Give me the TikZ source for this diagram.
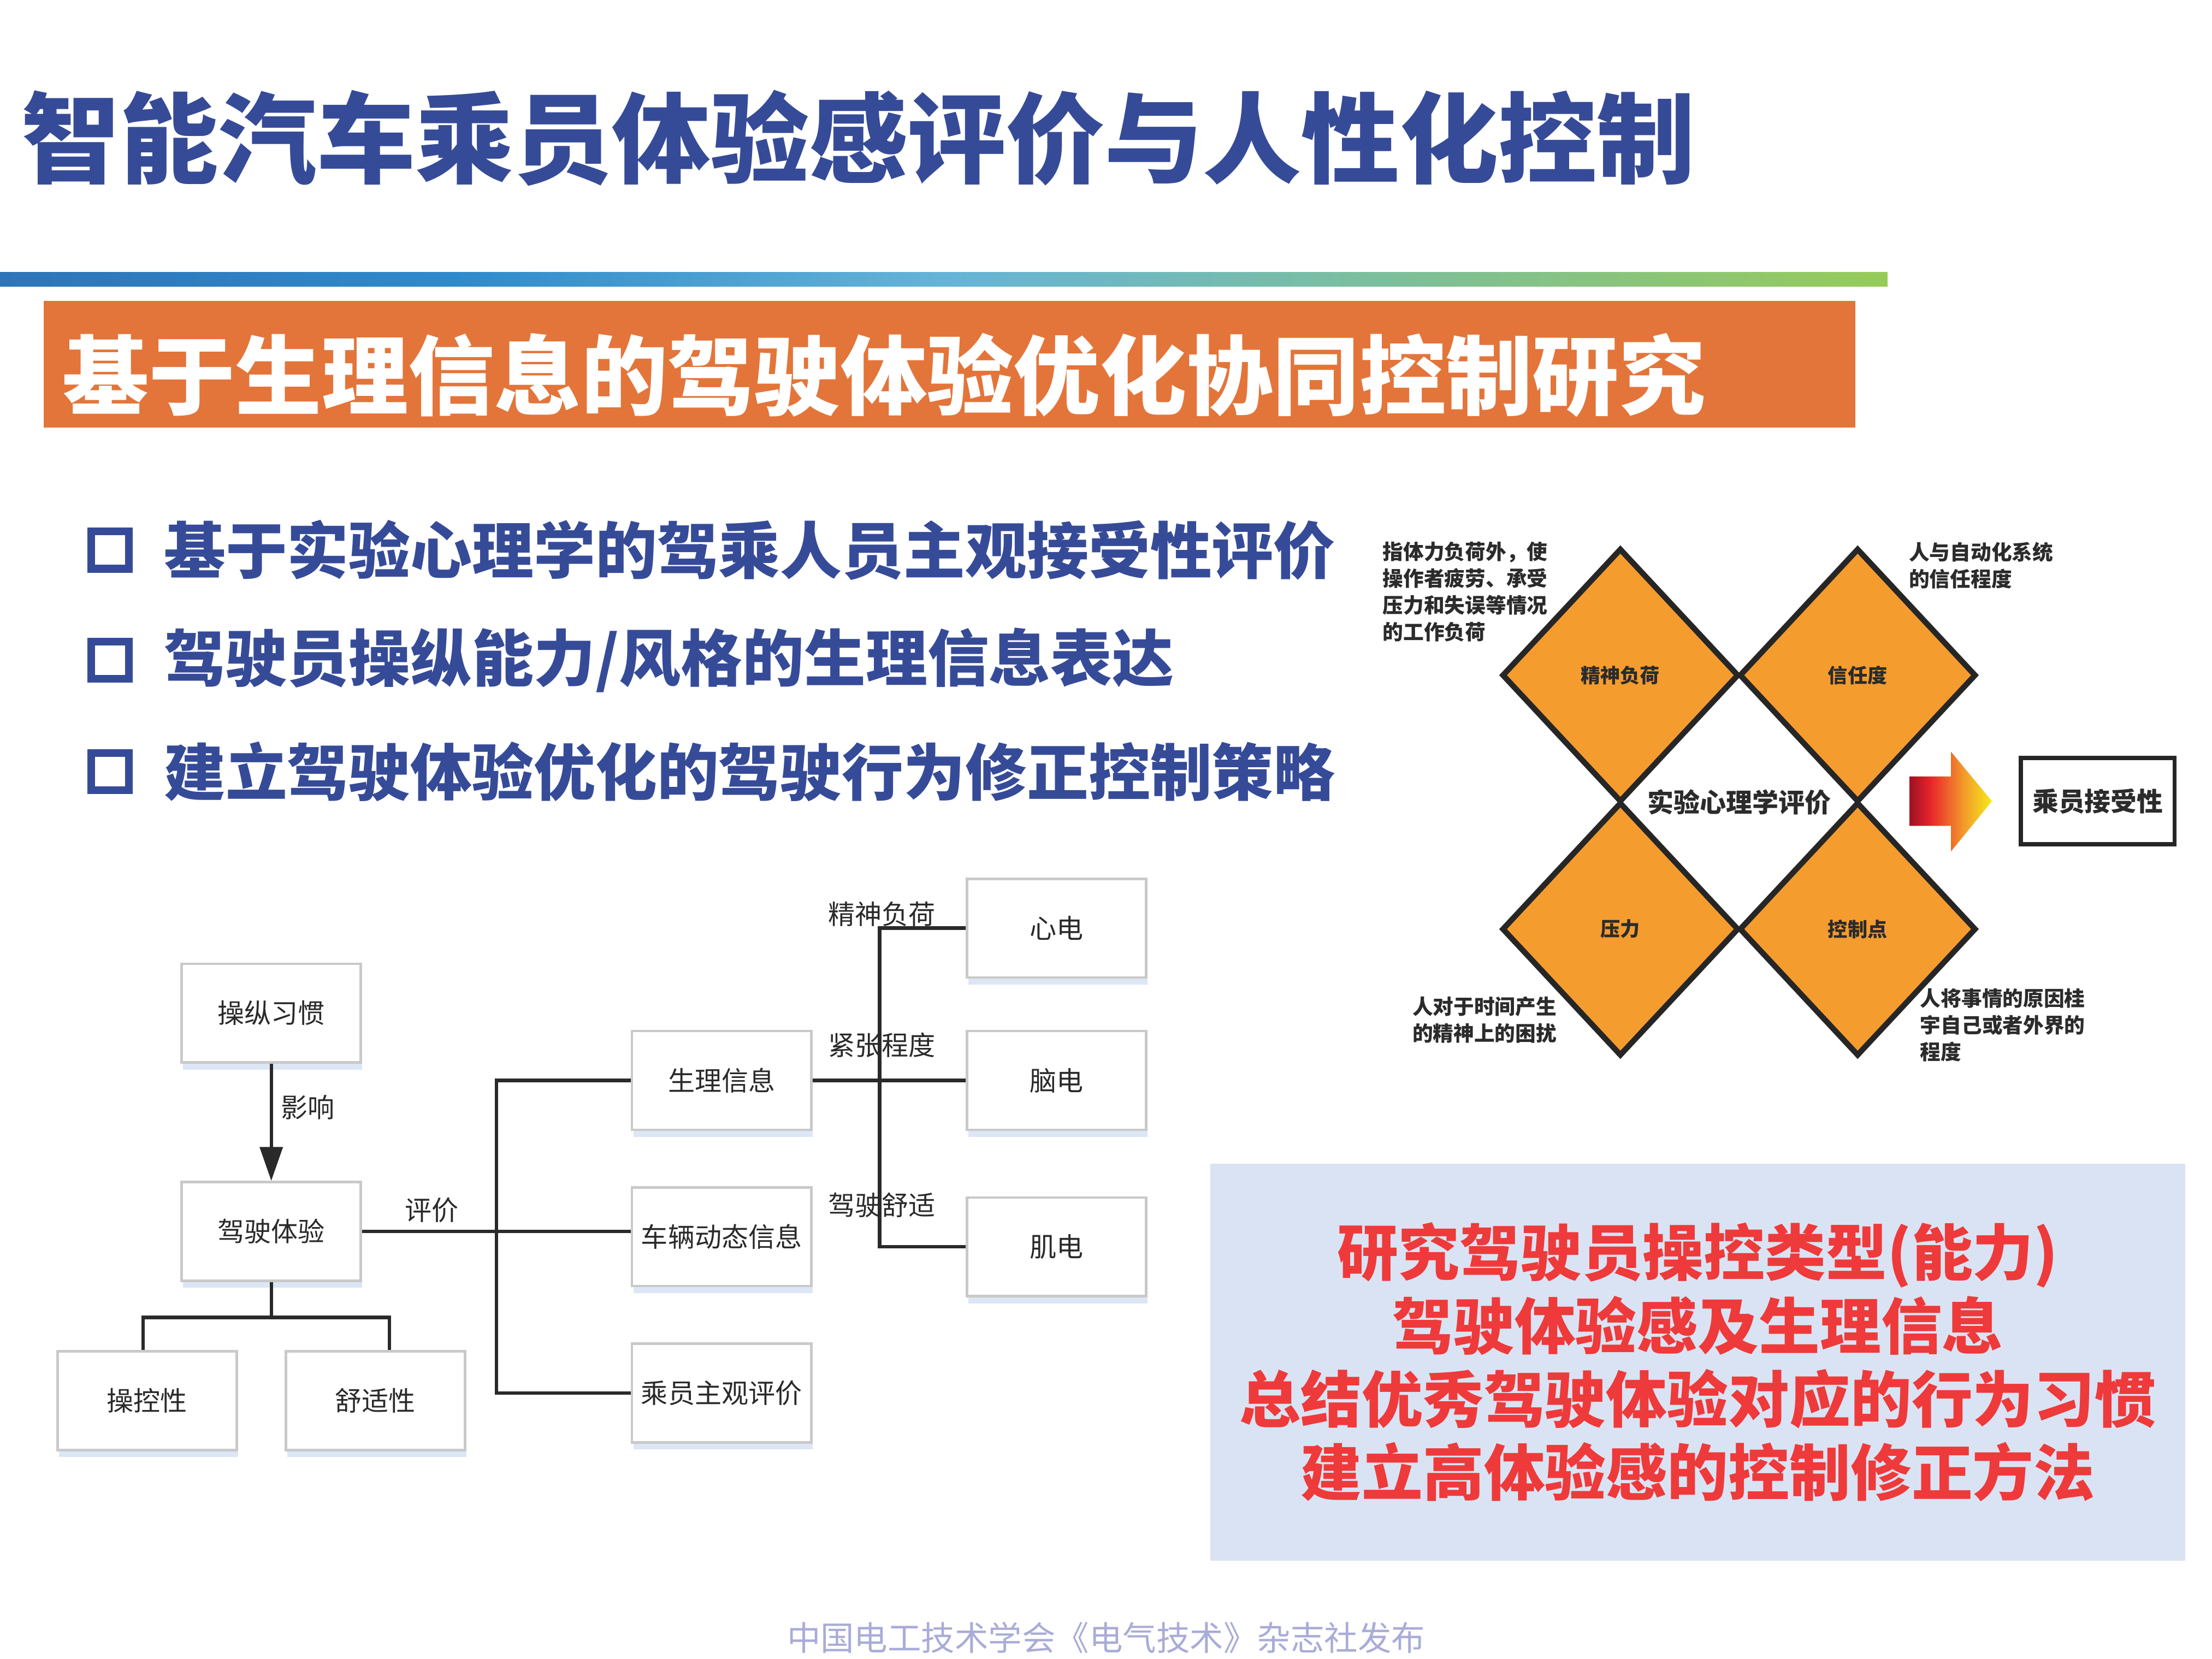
\documentclass[tikz,border=0pt]{standalone}
\usepackage{fontspec}
\setmainfont{Noto Sans CJK SC}
\usepackage{xcolor}
\definecolor{titleBlue}{HTML}{364B98}
\definecolor{headOrange}{HTML}{E3753A}
\definecolor{barBlue}{HTML}{2E74B8}
\definecolor{barMid}{HTML}{2F8ACB}
\definecolor{barSky}{HTML}{65B4D8}
\definecolor{barGreen}{HTML}{97CB58}
\definecolor{diamondOrange}{HTML}{F59C2F}
\definecolor{edgeDark}{HTML}{262626}
\definecolor{noteText}{HTML}{2B2B2B}
\definecolor{boxLine}{HTML}{C9C9C9}
\definecolor{shadowBlue}{HTML}{DCE6F5}
\definecolor{linkDark}{HTML}{2A2A2A}
\definecolor{panelBlue}{HTML}{DAE3F3}
\definecolor{alertRed}{HTML}{EE3A3A}
\definecolor{footGray}{HTML}{A9ACD7}
\definecolor{arrowDark}{HTML}{9E1022}
\definecolor{arrowRed}{HTML}{E8262B}
\definecolor{arrowOrange}{HTML}{F39A2B}
\definecolor{arrowYellow}{HTML}{F5EC18}
\usepackage{tikz}
\usetikzlibrary{
    shapes.geometric,
    arrows.meta,
    shadows,
    positioning,
    calc
}
\pgfdeclarehorizontalshading{barshade}{100bp}{color(0bp)=(barBlue); color(25bp)=(barBlue); color(37bp)=(barMid); color(50bp)=(barSky); color(75bp)=(barGreen); color(100bp)=(barGreen)}
\pgfdeclarehorizontalshading{arrowshade}{100bp}{color(0bp)=(arrowDark); color(25bp)=(arrowDark); color(38bp)=(arrowRed); color(58bp)=(arrowOrange); color(75bp)=(arrowYellow); color(100bp)=(arrowYellow)}
\tikzset{
    % Slide title and banner
    slide title/.style={
        anchor=west,
        inner sep=0pt,
        text=titleBlue,
        font=\fontsize{69.8}{80}\selectfont\bfseries,
    },
    banner text/.style={
        anchor=west,
        inner sep=0pt,
        text=white,
        font=\fontsize{61.3}{70}\selectfont\bfseries,
    },
    % Bullet items
    bullet mark/.style={
        draw=titleBlue,
        line width=5.5pt,
        minimum size=26.5pt,
        inner sep=0pt,
    },
    bullet text/.style={
        anchor=west,
        inner sep=0pt,
        text=titleBlue,
        font=\fontsize{43.7}{50}\selectfont\bfseries,
    },
    % Diamond tiles of the evaluation figure
    tile/.style={
        diamond,
        draw=edgeDark,
        line width=4pt,
        fill=diamondOrange,
        minimum width=168pt,
        minimum height=180pt,
        inner sep=0pt,
        text=noteText,
        font=\fontsize{14}{16}\selectfont\bfseries,
    },
    note/.style={
        anchor=west,
        align=left,
        inner sep=0pt,
        text=noteText,
        font=\fontsize{14.6}{19}\selectfont\bfseries,
    },
    % Flowchart boxes
    flowbox/.style={
        rectangle,
        draw=boxLine,
        line width=1.8pt,
        fill=white,
        minimum width=127pt,
        minimum height=70pt,
        inner sep=0pt,
        text=linkDark,
        font=\fontsize{19}{22}\selectfont,
        drop shadow={shadow xshift=1pt, shadow yshift=-5pt, fill=shadowBlue, opacity=1},
    },
    link/.style={
        draw=linkDark,
        line width=2.4pt,
    },
    link arrow/.style={
        link,
        -{Triangle[length=24pt, width=16pt]},
    },
    link label/.style={
        inner sep=0pt,
        text=linkDark,
        font=\fontsize{19}{22}\selectfont,
    },
    % Summary panel
    summary/.style={
        align=center,
        fill=panelBlue,
        minimum width=691pt,
        minimum height=281.5pt,
        text=alertRed,
        font=\fontsize{43.3}{52}\selectfont\bfseries,
    },
}

\begin{document}
\begin{tikzpicture}[x=1pt, y=-1pt]
    \useasboundingbox (0,0) rectangle (1568,1176);

    % title, bar and banner
    \node[slide title] (title) at (15,98) {智能汽车乘员体验感评价与人性化控制};
    \shade[shading=barshade] (0,193) rectangle (1338,203);
    \fill[headOrange] (31,213.5) rectangle (1315,303);
    \node[banner text] (banner) at (44,266) {基于生理信息的驾驶体验优化协同控制研究};

    % bullet list
    \foreach \y/\txt [count=\i] in {390/{基于实验心理学的驾乘人员主观接受性评价},
                                    468/{驾驶员操纵能力/风格的生理信息表达},
                                    547/{建立驾驶体验优化的驾驶行为修正控制策略}} {
        \node[bullet mark] (mark\i) at (78,\y) {};
        \node[bullet text] (item\i) at (116,\y) {\txt};
    }

    % evaluation diamonds
    \node[tile] (load) at (1148.6,478.7) {精神负荷};
    \node[tile] (trust) at (1316.8,478.7) {信任度};
    \node[tile] (stress) at (1148.6,658.7) {压力};
    \node[tile] (locus) at (1316.8,658.7) {控制点};
    \node[text=noteText, inner sep=0pt, font=\fontsize{18.6}{20}\selectfont\bfseries] (psych) at (1233,568.7) {实验心理学评价};

    \node[note] (loadnote) at (980,419.5) {指体力负荷外，使\\操作者疲劳、承受\\压力和失误等情况\\的工作负荷};
    \node[note] (trustnote) at (1353,401) {人与自动化系统\\的信任程度};
    \node[note] (stressnote) at (1001,723) {人对于时间产生\\的精神上的困扰};
    \node[note] (locusnote) at (1361,726.8) {人将事情的原因桂\\宇自己或者外界的\\程度};

    \shade[shading=arrowshade] (1353.5,550.5) -- (1383,550.5) -- (1383,533) -- (1412,568)
        -- (1383,603.6) -- (1383,585.5) -- (1353.5,585.5) -- cycle;
    \node[draw=edgeDark, line width=3pt, minimum width=109pt, minimum height=61pt, text=noteText,
          font=\fontsize{18.5}{20}\selectfont\bfseries] (accept) at (1487,568) {乘员接受性};

    % flowchart
    \node[flowbox] (habit) at (192.3,718.3) {操纵习惯};
    \node[flowbox, below=83pt of habit] (drive) {驾驶体验};
    \node[flowbox] (handle) at (104.3,993) {操控性};
    \node[flowbox, right=33pt of handle] (comfort) {舒适性};
    \node[flowbox] (physio) at (511.5,766) {生理信息};
    \node[flowbox, below=39pt of physio] (vehicle) {车辆动态信息};
    \node[flowbox, below=39pt of vehicle] (subject) {乘员主观评价};
    \node[flowbox] (ecg) at (749,658) {心电};
    \node[flowbox] (eeg) at (749,766) {脑电};
    \node[flowbox] (emg) at (749,884) {肌电};

    \node[link label, anchor=west] (influence) at (199,785) {影响};
    \node[link label] (evaluate) at (306,858) {评价};
    \node[link label] (loadlbl) at (625,648) {精神负荷};
    \node[link label] (tensionlbl) at (625,741) {紧张程度};
    \node[link label] (comfortlbl) at (625,854.5) {驾驶舒适};

    \coordinate (trunk) at (352,877);
    \coordinate (rtrunk) at (623.5,766);

    \draw[link arrow] (habit) -- (drive);
    \draw[link] (drive.south) -- ++(0,25) coordinate (fork);
    \draw[link] ([xshift=-3pt]handle.north) |- (fork) -| ([xshift=10pt]comfort.north);
    \draw[link] (drive.east) -- (drive.east -| vehicle.west);
    \draw[link] (physio.west) -| (trunk) |- (subject.west);
    \draw[link] (physio.east) -- (eeg.west);
    \draw[link] (ecg.west) -| (rtrunk) |- (emg.west);

    % summary panel and footer
    \node[summary] (summary) at (1203.5,965.7) {研究驾驶员操控类型(能力)\\驾驶体验感及生理信息\\总结优秀驾驶体验对应的行为习惯\\建立高体验感的控制修正方法};
    \node[text=footGray, inner sep=0pt, font=\fontsize{23.8}{28}\selectfont] (footer) at (784,1161) {中国电工技术学会《电气技术》杂志社发布};
\end{tikzpicture}
\end{document}
